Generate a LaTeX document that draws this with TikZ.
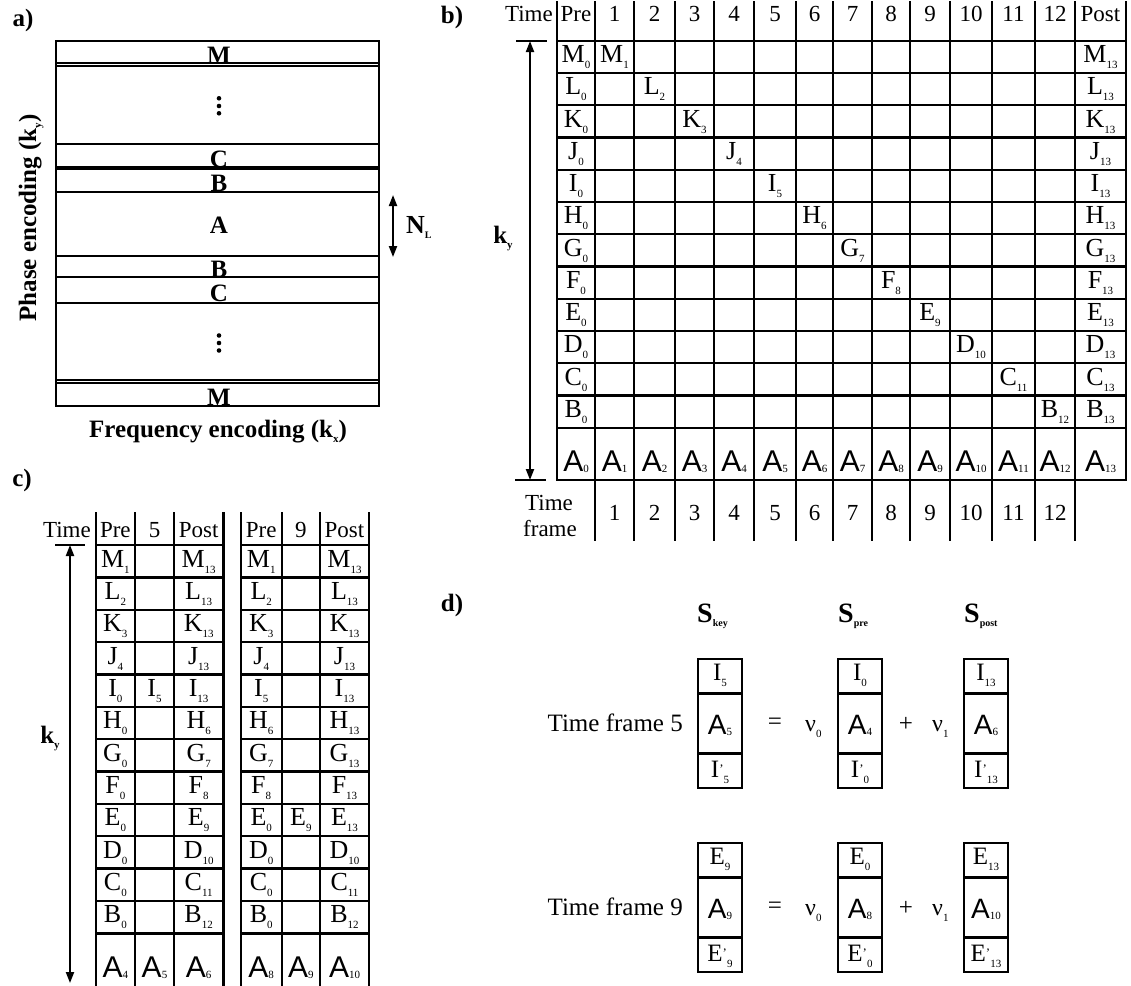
\documentclass[tikz,border=0pt]{standalone}
\usepackage{fontspec}
\setmainfont{Liberation Serif}
\newfontfamily\sansA{Liberation Sans}
\usetikzlibrary{arrows.meta}
\newcommand{\mysub}[1]{\raisebox{-6pt}{\fontsize{11}{11}\selectfont #1}}
\newcommand{\ent}[2]{{\fontsize{26}{26}\selectfont #1}\mysub{#2}}
\newcommand{\aent}[2]{{\fontsize{30}{30}\sansA #1}\raisebox{-1pt}{\fontsize{11}{11}\selectfont #2}}
\newcommand{\dent}[2]{{\fontsize{25}{25}\selectfont #1}\mysub{#2}}
\newcommand{\pent}[2]{{\fontsize{25}{25}\selectfont #1}\raisebox{4pt}{\fontsize{13}{13}\selectfont '}\mysub{#2}}
\newcommand{\dA}[1]{{\fontsize{28}{28}\sansA A}\raisebox{-1pt}{\fontsize{11}{11}\selectfont #1}}
\newcommand{\colmid}[2]{%
  \pgfmathsetmacro\xa{\bc[#1]}%
  \pgfmathsetmacro\xb{\bc[#2]}%
  \pgfmathsetmacro\xc{(\xa+\xb)/2}}
\begin{document}
\begin{tikzpicture}[x=1pt,y=-1pt,
  gline/.style={line width=2.4pt, line cap=rect},
  aline/.style={line width=2pt},
  arr/.style={line width=2pt, {Triangle[length=11pt,width=8pt]}-{Triangle[length=11pt,width=8pt]}},
  lab/.style={font=\fontsize{25}{25}\selectfont\bfseries, inner sep=0pt},
  hd/.style={font=\fontsize{23}{23}\selectfont, inner sep=0pt, anchor=base},
  ce/.style={inner sep=0pt, anchor=base},
  txt/.style={font=\fontsize{25}{25}\selectfont, inner sep=0pt},
]
\useasboundingbox (0,0) rectangle (1131,985);

% panel labels
\node[lab] (la) at (23,20) {a)};
\node[lab] (lb) at (452,17) {b)};
\node[lab] (lc) at (22,480) {c)};
\node[lab] (ld) at (452,605) {d)};

% ---------------- panel a
\draw[aline] (56,41) rectangle (379,406);
\foreach \yy in {63,66,144,166.7,169.3,191.7,256,277.3,302.7,380,383.3}
  \draw[aline] (56,\yy) -- (379,\yy);
\node[lab,anchor=base] (aM1) at (219,63) {M};
\node[lab,anchor=base] (aC1) at (219,167) {C};
\node[lab,anchor=base] (aB1) at (219,191) {B};
\node[lab,anchor=base] (aA) at (219,233) {A};
\node[lab,anchor=base] (aB2) at (219,277) {B};
\node[lab,anchor=base] (aC2) at (219,301) {C};
\node[lab,anchor=base] (aM2) at (219,405) {M};
\foreach \yy in {98.3,106,113.3,335.5,343,350.5} \fill (219,\yy) circle (2.3);
\coordinate (na1) at (393,195);
\coordinate (na2) at (393,257);
\draw[arr] (na1) -- (na2);
\node[lab,anchor=base west,font=\fontsize{26}{26}\selectfont\bfseries] (nl) at (406,233) {N\raisebox{-5pt}{\fontsize{10}{10}\selectfont L}};
\node[lab,rotate=90,anchor=base] (ylab) at (36,218) {Phase encoding (k\raisebox{-5pt}{\fontsize{11}{11}\selectfont y})};
\node[lab,anchor=base] (xlab) at (218,437) {Frequency encoding (k\raisebox{-5pt}{\fontsize{11}{11}\selectfont x})};

% ---------------- panel b
\def\bc{{557,595,634,675,714,754,796,833,872,910,950,992,1035,1075,1126}}
\foreach \i in {0,...,14}{
  \pgfmathsetmacro\xx{\bc[\i]}
  \ifnum\i=0 \draw[gline] (\xx,2) -- (\xx,480);
  \else\ifnum\i=14 \draw[gline] (\xx,2) -- (\xx,480);
  \else \draw[gline] (\xx,2) -- (\xx,540); \fi\fi
}
\foreach \k in {0,...,12}{
  \pgfmathsetmacro\yy{40.7+32.25*\k}
  \draw[gline] (557,\yy) -- (1126,\yy);
}
\draw[gline] (557,480) -- (1126,480);
\node[hd,anchor=base east] (bTime) at (553,21) {Time};
\foreach \t [count=\i from 0] in {Pre,1,2,3,4,5,6,7,8,9,10,11,12,Post}{
  \pgfmathtruncatemacro\j{\i+1}
  \colmid{\i}{\j}
  \node[hd] (bh\i) at (\xc,21) {\t};
}
\foreach \i in {1,...,12}{
  \pgfmathtruncatemacro\j{\i+1}
  \colmid{\i}{\j}
  \node[hd] (btf\i) at (\xc,520) {\i};
}
\node[hd] (btf) at (549,510) {Time};
\node[hd] (btf2) at (550,536) {frame};
\foreach \L [count=\r from 0] in {M,L,K,J,I,H,G,F,E,D,C,B}{
  \pgfmathsetmacro\yb{40.7+32.25*\r+22}
  \pgfmathtruncatemacro\d{\r+1}
  \pgfmathtruncatemacro\dd{\r+2}
  \colmid{0}{1}\let\xp\xc
  \node[ce] (bpre\r) at (\xp,\yb) {\ent{\L}{0}};
  \colmid{\d}{\dd}
  \node[ce] (bdia\r) at (\xc,\yb) {\ent{\L}{\d}};
  \colmid{13}{14}
  \node[ce] (bpost\r) at (\xc,\yb) {\ent{\L}{13}};
}
\foreach \i in {0,...,13}{
  \pgfmathtruncatemacro\j{\i+1}
  \colmid{\i}{\j}
  \node[ce] (bA\i) at (\xc,471) {\aent{A}{\i}};
}
\coordinate (bt) at (530,41);
\coordinate (bb) at (530,480);
\draw[arr] (bt) -- (bb);
\draw[aline] (516,41) -- (547,41);
\draw[aline] (515,480) -- (546,480);
\node[lab,anchor=base] (bky) at (503,243) {k\raisebox{-5pt}{\fontsize{11}{11}\selectfont y}};

% ---------------- panel c
\foreach \xx in {95.7,135,174,223.3,240.7,281.7,320,369}
  \draw[gline] (\xx,513) -- (\xx,986);
\foreach \k in {0,...,12}{
  \pgfmathsetmacro\yy{545+32.36*\k}
  \draw[gline] (95.7,\yy) -- (223.3,\yy);
  \draw[gline] (240.7,\yy) -- (369,\yy);
}
\node[hd,anchor=base east] (cTime) at (91,537) {Time};
\foreach \t/\xc [count=\i] in {Pre/115.35,5/154.5,Post/198.65,Pre/261.2,9/300.85,Post/344.5}
  \node[hd] (ch\i) at (\xc,537) {\t};
\foreach \L/\p/\q [count=\r from 0] in {M/1/13,L/2/13,K/3/13,J/4/13,I/0/13,H/0/6,G/0/7,F/0/8,E/0/9,D/0/10,C/0/11,B/0/12}{
  \pgfmathsetmacro\yb{545+32.36*\r+22}
  \node[ce] (c1pre\r) at (115.35,\yb) {\ent{\L}{\p}};
  \node[ce] (c1post\r) at (198.65,\yb) {\ent{\L}{\q}};
}
\foreach \L/\p/\q [count=\r from 0] in {M/1/13,L/2/13,K/3/13,J/4/13,I/5/13,H/6/13,G/7/13,F/8/13,E/0/13,D/0/10,C/0/11,B/0/12}{
  \pgfmathsetmacro\yb{545+32.36*\r+22}
  \node[ce] (c2pre\r) at (261.2,\yb) {\ent{\L}{\p}};
  \node[ce] (c2post\r) at (344.5,\yb) {\ent{\L}{\q}};
}
\node[ce] (c1mid) at (154.5,{545+32.36*4+22}) {\ent{I}{5}};
\node[ce] (c2mid) at (300.85,{545+32.36*8+22}) {\ent{E}{9}};
\node[ce] (c1A1) at (115.35,977) {\aent{A}{4}};
\node[ce] (c1A2) at (154.5,977) {\aent{A}{5}};
\node[ce] (c1A3) at (198.65,977) {\aent{A}{6}};
\node[ce] (c2A1) at (261.2,977) {\aent{A}{8}};
\node[ce] (c2A2) at (300.85,977) {\aent{A}{9}};
\node[ce] (c2A3) at (344.5,977) {\aent{A}{10}};
\coordinate (ct) at (70,545);
\coordinate (cb) at (70,983);
\draw[arr] (ct) -- (cb);
\draw[aline] (55,545) -- (85,545);
\node[lab,anchor=base] (cky) at (50,743) {k\raisebox{-5pt}{\fontsize{11}{11}\selectfont y}};

% ---------------- panel d
\foreach \o/\T/\F/\Ak/\Ap/\Aq/\pp/\qq [count=\n] in {0/5/I/5/4/6/0/13, 184/9/E/9/8/10/0/13}{
  \foreach \xl in {698,838,964}{
    \draw[gline] (\xl,659+\o) rectangle (\xl+44,788+\o);
    \draw[gline] (\xl,693.5+\o) -- (\xl+44,693.5+\o);
    \draw[gline] (\xl,753.5+\o) -- (\xl+44,753.5+\o);
  }
  \node[txt,anchor=base east] (dT\n) at (683,731+\o) {Time frame \T};
  \node[ce] (dk1\n) at (720,680+\o) {\dent{\F}{\Ak}};
  \node[ce] (dk2\n) at (720,734+\o) {\dA{\Ak}};
  \node[ce] (dk3\n) at (720,777+\o) {\pent{\F}{\Ak}};
  \node[ce] (dp1\n) at (860,680+\o) {\dent{\F}{\pp}};
  \node[ce] (dp2\n) at (860,734+\o) {\dA{\Ap}};
  \node[ce] (dp3\n) at (860,777+\o) {\pent{\F}{\pp}};
  \node[ce] (dq1\n) at (986,680+\o) {\dent{\F}{\qq}};
  \node[ce] (dq2\n) at (986,734+\o) {\dA{\Aq}};
  \node[ce] (dq3\n) at (986,777+\o) {\pent{\F}{\qq}};
  \node[txt] (deq\n) at (775,724+\o) {=};
  \node[txt] (dpl\n) at (906,724+\o) {+};
  \node[ce,anchor=base west,font=\fontsize{24}{24}\selectfont] (dv0\n) at (805,731+\o) {ν\mysub{0}};
  \node[ce,anchor=base west,font=\fontsize{24}{24}\selectfont] (dv1\n) at (932,731+\o) {ν\mysub{1}};
}
\node[ce,anchor=base west] (Skey) at (697,622) {\bfseries\fontsize{28}{28}\selectfont S\raisebox{-4pt}{\fontsize{10}{10}\selectfont key}};
\node[ce,anchor=base west] (Spre) at (838,622) {\bfseries\fontsize{28}{28}\selectfont S\raisebox{-4pt}{\fontsize{10}{10}\selectfont pre}};
\node[ce,anchor=base west] (Spost) at (964,622) {\bfseries\fontsize{28}{28}\selectfont S\raisebox{-4pt}{\fontsize{10}{10}\selectfont post}};
\end{tikzpicture}
\end{document}
